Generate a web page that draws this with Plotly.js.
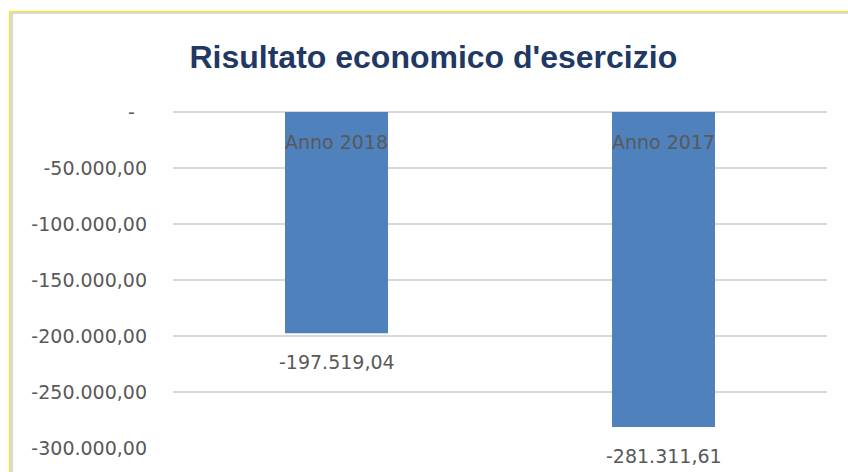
<!DOCTYPE html>
<html>
<head>
<meta charset="utf-8">
<script src="https://cdn.plot.ly/plotly-3.0.1.min.js"></script>
<style>
  html, body { margin: 0; padding: 0; background: #ffffff; }
  #wrap { position: relative; width: 848px; height: 472px; overflow: hidden; background: #fff; }
  #chart { position: absolute; left: 0; top: 0; width: 848px; height: 472px; }
  #frame { position: absolute; left: 10px; top: 12px; width: 900px; height: 520px;
           border-left: 3px solid #D9D9D9; border-top: 2px solid #D9D9D9;
           box-shadow: -1px -1px 0 #F5F000; pointer-events: none; }
</style>
</head>
<body>
<div id="wrap">
  <div id="chart"></div>
  <div id="frame"></div>
</div>
<script>
const categories = ["Anno 2018", "Anno 2017"];
const values = [-197519.04, -281311.61];
const valueLabels = ["-197.519,04", "-281.311,61"];
const tickValues = [0, -50000, -100000, -150000, -200000, -250000, -300000];
const tickLabels = ["-\u00a0\u00a0", "-50.000,00", "-100.000,00", "-150.000,00", "-200.000,00", "-250.000,00", "-300.000,00"];
const titleText = "Risultato economico d'esercizio";

const numFont = { family: "DejaVu Sans, Liberation Sans, sans-serif", size: 19, color: "#595959" };

const trace = {
  type: "bar",
  x: categories,
  y: values,
  marker: { color: "#4F81BD" },
  hoverinfo: "skip",
  showlegend: false
};

const annotations = [];
categories.forEach((c, i) => {
  annotations.push({
    x: c, y: values[i], xref: "x", yref: "y",
    text: valueLabels[i], showarrow: false,
    yanchor: "middle", xanchor: "center", yshift: -29,
    font: numFont
  });
  annotations.push({
    x: c, y: 0, xref: "x", yref: "y",
    text: c, showarrow: false,
    yanchor: "middle", xanchor: "center", yshift: -30,
    font: numFont
  });
});

const layout = {
  width: 848, height: 472,
  margin: { l: 173, r: 21, t: 112, b: 24, pad: 0 },
  paper_bgcolor: "rgba(0,0,0,0)",
  plot_bgcolor: "rgba(0,0,0,0)",
  bargap: 0.685,
  title: {
    text: "<b>" + titleText + "</b>",
    x: 0.511, xanchor: "center", xref: "container",
    y: 0.88, yanchor: "middle", yref: "container",
    font: { family: "Liberation Sans Narrow, Liberation Sans, sans-serif", size: 32, color: "#1F3864" }
  },
  xaxis: {
    type: "category",
    showticklabels: false,
    showgrid: false, zeroline: false, showline: false, ticks: ""
  },
  yaxis: {
    range: [-300000, 0],
    tickmode: "array",
    tickvals: tickValues,
    ticktext: tickLabels,
    tickfont: numFont,
    ticks: "",
    ticklabelstandoff: 25,
    showgrid: true, gridcolor: "#D9D9D9", gridwidth: 2,
    zeroline: true, zerolinecolor: "#D9D9D9", zerolinewidth: 2,
    showline: false
  },
  annotations: annotations
};

Plotly.newPlot("chart", [trace], layout, { displayModeBar: false, staticPlot: true });
</script>
</body>
</html>
